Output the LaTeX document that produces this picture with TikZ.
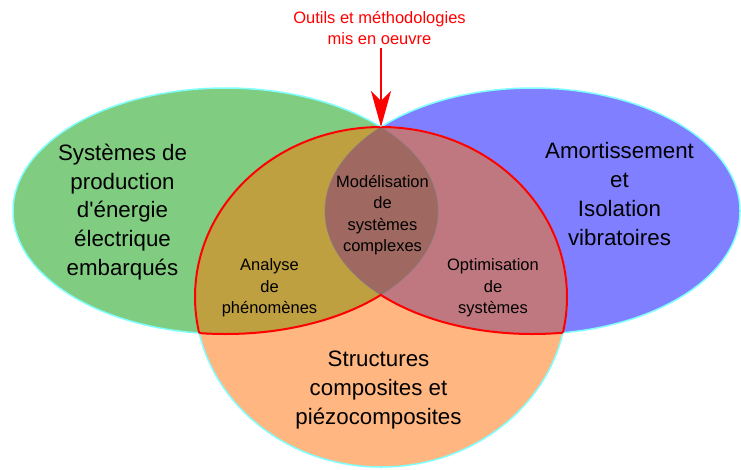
\documentclass[tikz,border=0pt]{standalone}
\usepackage{fontspec}
\setmainfont{Liberation Sans}
\usetikzlibrary{arrows.meta}
\definecolor{cgreen}{HTML}{80CC80}
\definecolor{cblue}{HTML}{7F7FFF}
\definecolor{corange}{HTML}{FFB680}
\definecolor{cgo}{HTML}{BFA040}
\definecolor{cbo}{HTML}{BF7880}
\definecolor{cgbo}{HTML}{9F6860}
\definecolor{ccyan}{HTML}{80FFFF}
\definecolor{cred}{HTML}{FF0000}
\begin{document}
\begin{tikzpicture}[x=1pt,y=-1pt,
  bigtxt/.style={align=center,font=\fontsize{22.3}{28.7}\selectfont,inner sep=0pt},
  smalltxt/.style={align=center,font=\fontsize{16.5}{21.5}\selectfont,inner sep=0pt},
  outl/.style={draw=ccyan,line width=1.5pt},
  redl/.style={draw=cred,line width=2pt},
  faint/.style={draw=gray,opacity=0.45,line width=1.2pt}]
\useasboundingbox (0,0) rectangle (741,469);
\def\GE{(225.5,211) ellipse [x radius=212.5pt, y radius=123pt]}
\def\BE{(532.5,211) ellipse [x radius=207.5pt, y radius=123pt]}
\def\OE{(381,297) ellipse [x radius=186pt, y radius=170pt]}
% base shapes
\fill[cgreen] \GE;
\fill[cblue] \BE;
\draw[outl] \GE;
\draw[outl] \BE;
\fill[corange] \OE;
\draw[outl] \OE;
% overlaps
\begin{scope}
  \clip \OE;
  \fill[cgo] \GE;
  \fill[cbo] \BE;
  \begin{scope}
    \clip \GE;
    \fill[cgbo] \BE;
  \end{scope}
\end{scope}
% faint lens edges
\begin{scope}
  \clip \OE;
  \begin{scope}
    \clip \BE;
    \draw[faint] \GE;
  \end{scope}
  \begin{scope}
    \clip \GE;
    \draw[faint] \BE;
  \end{scope}
\end{scope}
% red outline of orange cap region
\begin{scope}
  \clip \GE \BE;
  \draw[redl] \OE;
\end{scope}
\begin{scope}
  \clip \OE;
  \begin{scope}
    \clip (0,250) rectangle (381,469);
    \draw[redl] \GE;
  \end{scope}
  \begin{scope}
    \clip (381,250) rectangle (741,469);
    \draw[redl] \BE;
  \end{scope}
\end{scope}
% texts
\node[bigtxt] (green) at (122.5,212) {Systèmes de\\production\\d\textquotesingle énergie\\électrique\\embarqués};
\node[bigtxt] (blue) at (619.5,194) {Amortissement\\et\\Isolation\\vibratoires};
\node[bigtxt] (orange) at (378.5,390) {Structures\\composites et\\piézocomposites};
\node[smalltxt] (go) at (269.5,288) {Analyse\\de\\phénomènes};
\node[smalltxt] (bo) at (493,288) {Optimisation\\de\\systèmes};
\node[smalltxt] (gbo) at (382.5,215) {Modélisation\\de\\systèmes\\complexes};
\node[smalltxt,text=cred] (title) at (379.5,28) {Outils et méthodologies\\mis en oeuvre};
\coordinate (top) at (381,127);
\draw[cred,line width=2pt,-{Stealth[length=36pt,width=20pt,inset=10pt]}] (title.south -| top) ++(0,3) -- (top);
\end{tikzpicture}
\end{document}
